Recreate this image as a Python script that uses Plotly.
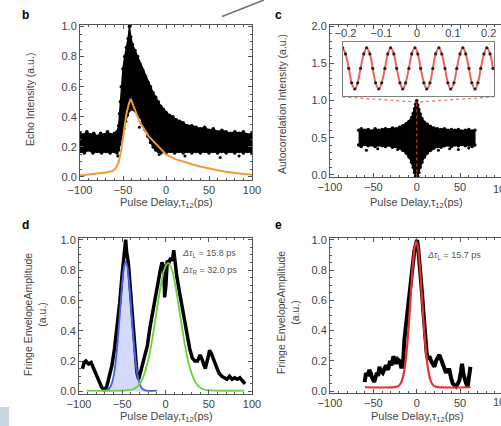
import plotly.graph_objects as go

# ---------------- panel b: echo intensity ----------------
echo_up_x = [-100, -96, -92, -88, -84, -80, -76, -72, -68, -64,
             -60, -57, -55, -54, -53, -52, -50, -48, -46, -44,
             -42.5, -41, -39, -36, -33, -30, -27, -24, -21, -18,
             -15, -12, -9, -6, -3, 0, 4, 8, 12, 16,
             20, 25, 30, 35, 40, 45, 50, 55, 60, 65,
             70, 75, 80, 85, 90, 95, 100]
echo_up_y = [0.29, 0.28, 0.30, 0.28, 0.29, 0.27, 0.29, 0.28, 0.30, 0.28,
             0.29, 0.30, 0.34, 0.42, 0.50, 0.60, 0.72, 0.80, 0.86, 0.92,
             1.00, 0.93, 0.88, 0.84, 0.80, 0.75, 0.71, 0.67, 0.63, 0.60,
             0.56, 0.53, 0.50, 0.47, 0.45, 0.43, 0.41, 0.40, 0.38, 0.37,
             0.36, 0.34, 0.34, 0.33, 0.32, 0.33, 0.31, 0.32, 0.30, 0.31,
             0.30, 0.29, 0.30, 0.29, 0.30, 0.28, 0.29]
echo_lo_x = [-100, -95, -90, -85, -80, -75, -70, -65, -60, -57,
             -55, -53, -51, -49, -47, -45, -43, -41, -39, -36,
             -33, -30, -27, -24, -21, -18, -15, -12, -9, -6,
             -3, 0, 5, 10, 15, 20, 25, 30, 35, 40,
             45, 50, 55, 60, 65, 70, 75, 80, 85, 90,
             95, 100]
echo_lo_y = [0.17, 0.16, 0.18, 0.16, 0.17, 0.16, 0.17, 0.16, 0.17, 0.16,
             0.18, 0.22, 0.27, 0.32, 0.37, 0.41, 0.44, 0.46, 0.45, 0.44,
             0.42, 0.40, 0.36, 0.31, 0.27, 0.23, 0.20, 0.18, 0.17, 0.16,
             0.17, 0.16, 0.17, 0.16, 0.17, 0.16, 0.17, 0.16, 0.17, 0.16,
             0.17, 0.16, 0.17, 0.16, 0.17, 0.16, 0.17, 0.16, 0.17, 0.16,
             0.17, 0.16]
echo_stray_x = [-56, -31, -28, -8, 22, 63, 85]
echo_stray_y = [0.14, 0.33, 0.35, 0.15, 0.14, 0.13, 0.14]

ref_x = [-100, -90, -80, -70, -62, -58, -55, -52, -49, -46,
         -43, -41, -39, -36, -33, -30, -25, -20, -15, -10,
         -5, 0, 10, 20, 30, 40, 50, 60, 70, 80, 90, 100]
ref_y = [0.01, 0.015, 0.02, 0.03, 0.04, 0.06, 0.10, 0.18, 0.30, 0.42,
         0.49, 0.52, 0.49, 0.44, 0.40, 0.36, 0.31, 0.27, 0.24, 0.21,
         0.18, 0.15, 0.12, 0.10, 0.085, 0.07, 0.055, 0.045, 0.035, 0.025, 0.02, 0.015]

# ---------------- panel c: autocorrelation ----------------
ac_x = [-67, -64, -60, -56, -52, -48, -44, -40, -36, -32,
        -28, -24, -20, -16, -12, -9, -6, -4, -2.5, -1.2,
        0,
        1.2, 2.5, 4, 6, 9, 12, 16, 20, 24, 28,
        32, 36, 40, 44, 48, 52, 56, 60, 64, 67]
ac_up = [0.60, 0.62, 0.60, 0.61, 0.59, 0.62, 0.60, 0.61, 0.62, 0.61,
         0.63, 0.62, 0.64, 0.66, 0.69, 0.72, 0.77, 0.83, 0.89, 0.95,
         1.00,
         0.94, 0.88, 0.82, 0.76, 0.71, 0.68, 0.65, 0.63, 0.62, 0.61,
         0.62, 0.60, 0.61, 0.60, 0.61, 0.59, 0.60, 0.61, 0.59, 0.60]
ac_lo = [0.40, 0.38, 0.41, 0.39, 0.40, 0.38, 0.40, 0.39, 0.38, 0.40,
         0.37, 0.38, 0.36, 0.33, 0.29, 0.24, 0.17, 0.10, 0.03, -0.02,
         -0.05,
         -0.02, 0.03, 0.10, 0.17, 0.24, 0.29, 0.33, 0.36, 0.38, 0.37,
         0.39, 0.40, 0.38, 0.40, 0.39, 0.41, 0.39, 0.40, 0.38, 0.40]
ac_stray_x = [-58, -45, -22, -12, 25, 38, 48, 60]
ac_stray_y = [0.33, 0.35, 0.34, 0.31, 0.33, 0.35, 0.34, 0.36]

# fringes inside the +/-0.2 ps window
fr_x = [-0.208, -0.200, -0.191, -0.183, -0.174, -0.166, -0.158, -0.149,
        -0.141, -0.132, -0.124, -0.116, -0.107, -0.099, -0.090, -0.082,
        -0.074, -0.065, -0.057, -0.048, -0.040, -0.032, -0.023, -0.015,
        -0.006, 0.002, 0.010, 0.019, 0.027, 0.036, 0.044, 0.052,
        0.061, 0.069, 0.078, 0.086, 0.094, 0.103, 0.111, 0.120,
        0.128, 0.136, 0.145, 0.153, 0.162, 0.170, 0.178, 0.187,
        0.195, 0.204, 0.212]
fr_y = [1.0, 0.85, 0.5, 0.15, 0.0, 0.15, 0.5, 0.85,
        1.0, 0.85, 0.5, 0.15, 0.0, 0.15, 0.5, 0.85,
        1.0, 0.85, 0.5, 0.15, 0.0, 0.15, 0.5, 0.85,
        1.0, 0.85, 0.5, 0.15, 0.0, 0.15, 0.5, 0.85,
        1.0, 0.85, 0.5, 0.15, 0.0, 0.15, 0.5, 0.85,
        1.0, 0.85, 0.5, 0.15, 0.0, 0.15, 0.5, 0.85,
        1.0, 0.85, 0.5]
win_link_x = [-85.7, 0, 88.8]
win_link_y = [1.05, 0.98, 1.05]

# ---------------- panel d: fringe envelope (two pulses) ----------------
env_d_x = [-96, -94, -92, -89, -86, -83, -80, -77, -74, -71,
           -68, -65, -62, -59, -56, -53, -50, -48, -46, -45,
           -43, -41, -39, -37, -35, -33, -31, -29, -27, -24,
           -21, -18, -15, -12, -9, -6, -4, -2, -1, 0.5,
           2, 4, 6, 8, 9.5, 11, 13, 16, 19, 22,
           25, 28, 31, 34, 37, 40, 43, 46, 49, 51,
           53, 56, 59, 62, 65, 68, 71, 74, 77, 80,
           83, 86, 89, 92]
env_d_y = [0.15, 0.19, 0.20, 0.18, 0.19, 0.15, 0.11, 0.07, 0.03, 0.01,
           0.03, 0.10, 0.17, 0.28, 0.42, 0.58, 0.78, 0.88, 1.00, 0.92,
           0.85, 0.70, 0.55, 0.38, 0.22, 0.12, 0.08, 0.12, 0.17, 0.22,
           0.30, 0.42, 0.52, 0.62, 0.72, 0.80, 0.85, 0.82, 0.62, 0.70,
           0.86, 0.85, 0.88, 0.86, 0.93, 0.84, 0.76, 0.66, 0.56, 0.45,
           0.35, 0.28, 0.22, 0.20, 0.20, 0.24, 0.20, 0.15, 0.22, 0.27,
           0.25, 0.20, 0.16, 0.12, 0.10, 0.09, 0.08, 0.10, 0.08, 0.09,
           0.08, 0.09, 0.07, 0.05]
fit_l_x = [-72, -66, -64, -62, -60, -58, -56, -54, -52, -50, -48, -46,
           -44, -42, -40, -38, -36, -34, -32, -30, -28, -26, -22, -10]
fit_l_y = [0.005, 0.015, 0.028, 0.054, 0.101, 0.177, 0.285, 0.422, 0.575, 0.716, 0.818, 0.855,
           0.818, 0.716, 0.575, 0.422, 0.285, 0.177, 0.101, 0.054, 0.028, 0.015, 0.006, 0.005]
fit_r_x = [-91, -43, -37, -33, -29, -25, -21, -17, -13, -9, -5, -1, 3,
           7, 11, 15, 19, 23, 27, 31, 35, 39, 43, 49, 91]
fit_r_y = [0.005, 0.008, 0.016, 0.030, 0.0575, 0.106, 0.182, 0.289, 0.425, 0.574, 0.711, 0.81, 0.845,
           0.81, 0.711, 0.574, 0.425, 0.289, 0.182, 0.106, 0.0575, 0.030, 0.016, 0.008, 0.005]

# ---------------- panel e: fringe envelope (single pulse) ----------------
env_e_x = [-60, -58.5, -56.5, -54.7, -53, -51.6, -49, -47.5, -46, -44.5,
           -43, -41, -39.2, -37, -35.3, -33, -30.7, -29, -26.9, -25,
           -23.8, -22, -20, -18, -16, -14.2, -12, -10.4, -8.5, -6.5,
           -4.5, -2.7, -1, 0.4, 1.8, 3, 4.5, 6.1, 7.5, 8.8,
           10, 11.5, 13, 14.6, 16.5, 18.5, 20.5, 22.3, 24, 26.2,
           28, 30, 32, 33.8, 35.5, 37.7, 39.5, 41.5, 43.5, 45.4,
           47.5, 49.2, 51, 52.3, 54, 55.4, 57, 58.8, 60.5, 61.9]
env_e_y = [0.06, 0.12, 0.10, 0.14, 0.12, 0.09, 0.06, 0.09, 0.12, 0.10,
           0.16, 0.13, 0.12, 0.15, 0.17, 0.14, 0.20, 0.17, 0.23, 0.20,
           0.18, 0.21, 0.20, 0.16, 0.16, 0.34, 0.45, 0.54, 0.66, 0.76,
           0.86, 0.93, 0.97, 1.00, 0.94, 0.87, 0.76, 0.65, 0.54, 0.43,
           0.33, 0.25, 0.21, 0.23, 0.20, 0.18, 0.16, 0.20, 0.22, 0.24,
           0.21, 0.18, 0.15, 0.12, 0.14, 0.14, 0.09, 0.05, 0.04, 0.03,
           0.05, 0.07, 0.13, 0.18, 0.11, 0.07, 0.05, 0.03, 0.09, 0.16]
fit_e_x = [-60, -25.5, -21.5, -18.5, -16.5, -14.5, -12.5, -10.5, -8.5, -6.5, -4.5, -2.5, -0.5,
           1.5, 3.5, 5.5, 7.5, 9.5, 11.5, 13.5, 15.5, 17.5, 20.5, 24.5, 62]
fit_e_y = [0.025, 0.026, 0.032, 0.05, 0.079, 0.131, 0.216, 0.339, 0.495, 0.669, 0.831, 0.948, 0.99,
           0.948, 0.831, 0.669, 0.495, 0.339, 0.216, 0.131, 0.079, 0.05, 0.032, 0.026, 0.025]

W, H = 501, 426
FONT = "Liberation Sans, Arial, sans-serif"
GREY = "#555555"
TXT = "#444444"


def hx(p):
    return p / W


def vy(p):
    return 1 - p / H


fig = go.Figure()

# b
fig.add_trace(go.Scatter(x=echo_up_x + echo_lo_x[::-1], y=echo_up_y + echo_lo_y[::-1],
                         fill="toself", fillcolor="black", mode="lines+markers",
                         line=dict(color="black", width=1.5), marker=dict(color="black", size=3.5),
                         xaxis="x", yaxis="y"))
fig.add_trace(go.Scatter(x=echo_stray_x, y=echo_stray_y, mode="markers",
                         marker=dict(color="black", size=3), xaxis="x", yaxis="y"))
fig.add_trace(go.Scatter(x=ref_x, y=ref_y, mode="lines", line=dict(color="#f29a3a", width=2),
                         xaxis="x", yaxis="y"))

# c
fig.add_trace(go.Scatter(x=ac_x + ac_x[::-1], y=ac_up + ac_lo[::-1],
                         fill="toself", fillcolor="black", mode="lines+markers",
                         line=dict(color="black", width=1.5), marker=dict(color="black", size=3.5),
                         xaxis="x2", yaxis="y2"))
fig.add_trace(go.Scatter(x=ac_stray_x, y=ac_stray_y, mode="markers",
                         marker=dict(color="black", size=3), xaxis="x2", yaxis="y2"))
fig.add_trace(go.Scatter(x=[0, 0], y=[-0.05, 0.98], mode="lines",
                         line=dict(color="rgba(235,70,60,0.85)", width=1.2, dash="dot"),
                         xaxis="x2", yaxis="y2"))
fig.add_trace(go.Scatter(x=win_link_x, y=win_link_y, mode="lines",
                         line=dict(color="rgba(235,70,60,0.8)", width=1.2, dash="dot"),
                         xaxis="x2", yaxis="y2", cliponaxis=False))
# c inset
fig.add_trace(go.Scatter(x=fr_x, y=fr_y, mode="lines", line=dict(color="rgba(230,60,50,0.8)", width=2, shape="spline"),
                         xaxis="x5", yaxis="y5"))
fig.add_trace(go.Scatter(x=fr_x, y=fr_y, mode="markers", marker=dict(color="#222", size=3.2),
                         xaxis="x5", yaxis="y5"))

# d
fig.add_trace(go.Scatter(x=env_d_x, y=env_d_y, mode="lines", line=dict(color="black", width=3.5),
                         xaxis="x3", yaxis="y3"))
fig.add_trace(go.Scatter(x=fit_l_x, y=fit_l_y, mode="lines", fill="tozeroy",
                         fillcolor="rgba(110,130,235,0.3)",
                         line=dict(color="#4b5fe0", width=1.8, shape="spline"), xaxis="x3", yaxis="y3"))
fig.add_trace(go.Scatter(x=fit_r_x, y=fit_r_y, mode="lines",
                         line=dict(color="#66d433", width=1.8, shape="spline"), xaxis="x3", yaxis="y3"))

# e
fig.add_trace(go.Scatter(x=env_e_x, y=env_e_y, mode="lines", line=dict(color="black", width=4),
                         xaxis="x4", yaxis="y4"))
fig.add_trace(go.Scatter(x=fit_e_x, y=fit_e_y, mode="lines",
                         line=dict(color="#e8312a", width=2.2, shape="spline"), xaxis="x4", yaxis="y4"))

axis_common = dict(showline=True, linecolor=GREY, linewidth=1, ticks="inside", ticklen=4,
                   tickcolor=GREY, showgrid=False, zeroline=False,
                   tickfont=dict(family=FONT, size=11, color=TXT))


def xax(domain, rng, anchor, mirror=True):
    d = dict(axis_common, domain=domain, range=rng, anchor=anchor, mirror="allticks" if mirror else False,
             tickvals=[-100, -50, 0, 50, 100], minor=dict(dtick=10, ticklen=2, tickcolor=GREY, ticks="inside"))
    return d


def yax(domain, rng, anchor, dtick, minor, mirror=True, fmt=".1f"):
    return dict(axis_common, domain=domain, range=rng, anchor=anchor, mirror="allticks" if mirror else False,
                dtick=dtick, tick0=0, tickformat=fmt,
                minor=dict(dtick=minor, ticklen=2, tickcolor=GREY, ticks="inside"))


fig.update_layout(
    width=W, height=H, margin=dict(l=0, r=0, t=0, b=0, autoexpand=False),
    paper_bgcolor="white", plot_bgcolor="white", showlegend=False,
    xaxis=xax([hx(80), hx(252)], [-100, 100], "y"),
    yaxis=yax([vy(180), vy(25)], [-0.02, 1.01], "x", 0.2, 0.05),
    xaxis2=xax([hx(330), 1.0], [-100, 97.2], "y2"),
    yaxis2=yax([vy(177), vy(25)], [-0.03, 2.02], "x2", 0.5, 0.1, mirror=False),
    xaxis3=xax([hx(79), hx(252)], [-100, 100], "y3"),
    yaxis3=yax([vy(394), vy(238)], [-0.017, 1.011], "x3", 0.2, 0.05),
    xaxis4=xax([hx(330), 1.0], [-100, 97.2], "y4"),
    yaxis4=yax([vy(393), vy(238)], [-0.013, 1.013], "x4", 0.2, 0.05, mirror=False),
    xaxis5=dict(domain=[hx(342.7), hx(494)], range=[-0.208, 0.215], anchor="y5", side="top",
                showline=True, mirror=True, linecolor="#808080", linewidth=1, ticks="",
                showgrid=False, zeroline=False, tickvals=[-0.2, -0.1, 0, 0.1, 0.2],
                ticktext=["\u22120.2", "\u22120.1", "0", "0.1", "0.2"],
                tickfont=dict(family=FONT, size=11, color=TXT)),
    yaxis5=dict(domain=[vy(96), vy(42)], range=[-0.17, 1.14], anchor="x5",
                showline=True, mirror=True, linecolor="#808080", linewidth=1, ticks="",
                showticklabels=False, showgrid=False, zeroline=False),
)

ann = []


def text(x, y, s, size=11, angle=0, bold=False, xanchor="center", color=TXT, family=FONT):
    ann.append(dict(x=hx(x), y=vy(y), xref="paper", yref="paper", text=("<b>%s</b>" % s) if bold else s,
                    showarrow=False, textangle=angle, xanchor=xanchor, yanchor="middle",
                    font=dict(family=family, size=size, color=color)))


text(25, 15, "b", 12, bold=True, color="black")
text(278, 15, "c", 12, bold=True, color="black")
text(25, 225, "d", 12, bold=True, color="black")
text(278, 225, "e", 12, bold=True, color="black")

xtitle = "Pulse Delay,\u03c4<sub>12</sub>(ps)"
text(166, 203, xtitle, 11)
text(416, 203, xtitle, 11)
text(166, 417, xtitle, 11)
text(417, 417, xtitle, 11)

text(30, 100, "Echo Intensity (a.u.)", 10.5, angle=-90)
text(282, 104, "Autocorrelation Intensity (a.u.)", 10.5, angle=-90)
text(35, 315, "Fringe EnvelopeAmplitude<br>(a.u.)", 10.5, angle=-90)
text(288, 313, "Fringe EnvelopeAmplitude<br>(a.u.)", 10.5, angle=-90)

text(180, 253, "<i>\u0394\u03c4</i><sub>L</sub> = 15.8 ps", 9, xanchor="left", color="#555")
text(180, 270, "<i>\u0394\u03c4</i><sub>R</sub> = 32.0 ps", 9, xanchor="left", color="#555")
text(425, 255, "<i>\u0394\u03c4</i><sub>L</sub> = 15.7 ps", 9, xanchor="left", color="#555")

# the "100" tick label of the right-hand panels runs past the page edge
text(502, 189, "100", 11, xanchor="center")
text(502, 402, "100", 11, xanchor="center")

fig.update_layout(annotations=ann)

fig.update_layout(shapes=[
    dict(type="line", xref="paper", yref="paper", x0=hx(222), y0=vy(16.5), x1=hx(264), y1=1.0,
         line=dict(color="#707070", width=1.5)),
    dict(type="rect", xref="paper", yref="paper", x0=0, x1=hx(9), y0=0, y1=vy(407),
         fillcolor="#c9d6de", line=dict(width=0)),
])

fig.write_html("out.html")
